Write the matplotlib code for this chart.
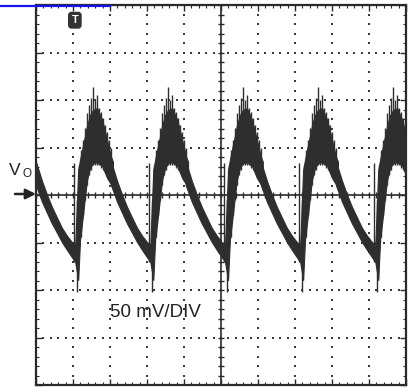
import numpy as np
import matplotlib.pyplot as plt
from matplotlib.lines import Line2D

plt.rcParams['font.family'] = ['Liberation Sans', 'DejaVu Sans']

# ============== data (scope divisions: x 0..10, y -4..+4) ==============
# where the switching spikes sit, in horizontal divisions
spike_pos = [1.11, 3.14, 5.16, 7.19, 9.22]

# one period of the ripple band (clean core), phase measured from each spike
band_phase = [-1.11, -0.95, -0.81, -0.68, -0.54, -0.41, -0.27, -0.14, -0.05,
              0.03, 0.08, 0.16, 0.22, 0.27, 0.35, 0.43, 0.54, 0.68, 0.81, 0.92, 0.97]
band_top = [0.70, 0.30, 0.00, -0.25, -0.48, -0.69, -0.86, -0.99, -1.05,
            0.53, 0.74, 1.05, 1.26, 1.47, 1.68, 1.79, 1.83, 1.58, 1.16, 0.80, 0.70]
band_bottom = [0.20, -0.14, -0.38, -0.60, -0.80, -0.99, -1.16, -1.31, -1.41,
               -1.79, -0.95, -0.42, 0.00, 0.32, 0.57, 0.67, 0.69, 0.61, 0.36, 0.22, 0.20]

# noise needles riding on the trace (phase, top, bottom)
needle_phase = [-0.08, 0.00, 0.05, 0.11, 0.16, 0.22, 0.27, 0.32, 0.38, 0.43,
                0.49, 0.54, 0.59, 0.65, 0.70, 0.76, 0.81, 0.86, 0.92]
needle_top = [0.67, -0.11, 0.63, 0.95, 1.16, 1.41, 1.73, 1.89, 2.04, 2.27,
              2.00, 2.11, 1.83, 1.75, 1.62, 1.47, 1.33, 1.16, 0.99]
needle_bottom = [-1.41, -2.04, -1.05, -0.88, -0.42, -0.11, 0.21, 0.42, 0.53, 0.63,
                 0.63, 0.63, 0.63, 0.57, 0.53, 0.48, 0.40, 0.32, 0.22]

scale_label = "50 mV/DIV"
trace_name = "V"
trace_sub = "O"

W, H = 409, 388
trace_color = '#2e2e2e'
grid_color = '#3a3a3a'


def main():
    fig = plt.figure(figsize=(W / 100, H / 100), dpi=100)
    ax = fig.add_axes([36 / W, 3 / H, 370 / W, 380 / H])
    ax.set_xlim(0, 10)
    ax.set_ylim(-4, 4)

    # border + inward ticks every 1/5 division
    for sp in ax.spines.values():
        sp.set_linewidth(1.6)
        sp.set_color('#2a2a2a')
    ax.set_xticks(np.arange(0, 11, 1))
    ax.set_yticks(np.arange(-4, 5, 1))
    ax.set_xticks(np.arange(0, 10.01, 0.2), minor=True)
    ax.set_yticks(np.arange(-4, 4.01, 0.2), minor=True)
    ax.tick_params(which='both', direction='in', top=True, right=True,
                   labelbottom=False, labelleft=False, color='#2a2a2a')
    ax.tick_params(which='major', length=4, width=1)
    ax.tick_params(which='minor', length=2.5, width=0.8)

    # dotted graticule
    fine_x = np.arange(0, 10.01, 0.2)
    fine_y = np.arange(-4, 4.01, 0.2)
    for gx in range(1, 10):
        if gx == 5:
            continue
        ax.scatter(np.full(len(fine_y), gx), fine_y, s=2.2, marker='s', color=grid_color, lw=0)
    for gy in range(-3, 4):
        if gy == 0:
            continue
        ax.scatter(fine_x, np.full(len(fine_x), gy), s=2.2, marker='s', color=grid_color, lw=0)

    # centre cross with its tick marks
    ax.axhline(0, color='#2a2a2a', lw=1.2)
    ax.axvline(5, color='#2a2a2a', lw=1.2)
    ax.plot(fine_x, np.zeros(len(fine_x)), ls='none', marker='|', ms=5, mew=1, color='#2a2a2a')
    ax.plot(np.full(len(fine_y), 5), fine_y, ls='none', marker='_', ms=5, mew=1, color='#2a2a2a')

    # ripple trace
    for s in spike_pos:
        xs = s + np.array(band_phase)
        ax.fill_between(xs, band_top, band_bottom, color=trace_color, lw=0.8, zorder=3)
        ax.vlines(s + np.array(needle_phase), needle_bottom, needle_top,
                  color=trace_color, lw=1.0, zorder=3)

    # trigger marker
    ax.text(1.05, 3.68, 'T', color='white', fontsize=8, fontweight='bold',
            ha='center', va='center', zorder=5,
            bbox=dict(boxstyle='round,pad=0.25', fc='#333333', ec='#333333'))

    ax.text(2.0, -2.57, scale_label, fontsize=13.5, color='#222222',
            ha='left', va='baseline', zorder=4)

    # channel label and ground arrow (figure pixels)
    fig.text(9 / W, 1 - 175 / H, trace_name, fontsize=12.5, color='#222222', va='baseline')
    fig.text(22.5 / W, 1 - 177.5 / H, trace_sub, fontsize=8.5, color='#222222', va='baseline')
    fig.add_artist(plt.Annotation('', xy=(36 / W, 1 - 194 / H), xytext=(15 / W, 1 - 194 / H),
                                  xycoords='figure fraction', textcoords='figure fraction',
                                  arrowprops=dict(arrowstyle='-|>', color='#222222', lw=1.8,
                                                  mutation_scale=15, shrinkA=0, shrinkB=0)))

    # blue bar in the top-left corner
    fig.add_artist(Line2D([0, 110 / W], [1 - 6 / H, 1 - 6 / H], color='#1414f0', lw=1.6))

    fig.savefig('out.png', dpi=100)


if __name__ == "__main__":
    main()
